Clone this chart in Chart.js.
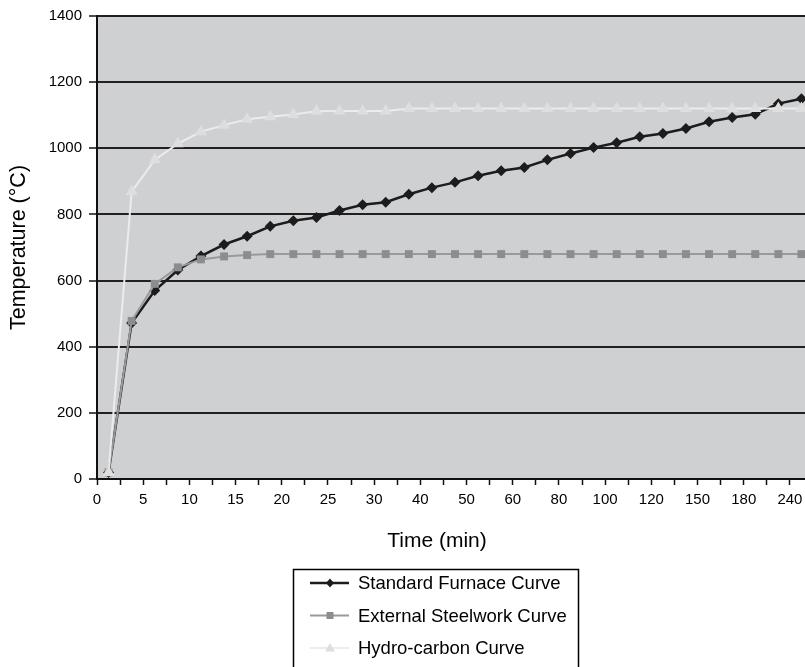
<!DOCTYPE html>
<html>
<head>
<meta charset="utf-8">
<script src="https://cdn.jsdelivr.net/npm/chart.js@4.4.1/dist/chart.umd.min.js"></script>
<style>
  html, body { margin: 0; padding: 0; background: #fff; overflow: hidden; }
  #wrap { width: 820px; height: 667px; }
</style>
</head>
<body>
<div id="wrap"><canvas id="c" width="820" height="667"></canvas></div>
<script>
// Time categories (minutes) and fire temperature curves (°C)
const times = [0, 2.5, 5, 7.5, 10, 12.5, 15, 17.5, 20, 22.5, 25, 27.5, 30, 35, 40, 45, 50, 55, 60, 70, 80, 90, 100, 110, 120, 135, 150, 165, 180, 210, 240];

const standardFurnace = [20, 472, 570, 632, 674, 709, 734, 764, 781, 791, 812, 829, 837, 861, 881, 897, 917, 932, 942, 965, 984, 1002, 1017, 1035, 1045, 1060, 1080, 1093, 1103, 1135, 1150];

const externalSteelwork = [20, 478, 590, 640, 664, 673, 677, 680, 680, 680, 680, 680, 680, 680, 680, 680, 680, 680, 680, 680, 680, 680, 680, 680, 680, 680, 680, 680, 680, 680, 680];

const hydrocarbon = [20, 869, 965, 1014, 1050, 1070, 1088, 1095, 1102, 1112, 1113, 1113, 1113, 1120, 1120, 1120, 1120, 1120, 1120, 1120, 1120, 1120, 1120, 1120, 1120, 1120, 1120, 1120, 1120, 1120, 1120];

const seriesNames = ['Standard Furnace Curve', 'External Steelwork Curve', 'Hydro-carbon Curve'];

const FONT = '"Liberation Sans", Arial, Helvetica, sans-serif';

// each category sits in the middle of its slot on the time axis
const toPoints = (vals) => vals.map((v, i) => ({ x: i + 0.5, y: v }));

const styles = [
  { line: '#1c1c1c', mark: '#1c1c1c', shape: 'rectRot', r: 5.5, w: 2.5, order: 2 },
  { line: '#9a9a9b', mark: '#8d8d8f', shape: 'rect', r: 5.6, w: 2, order: 1 },
  { line: '#ececec', mark: '#dedede', shape: 'triangle', r: 7, w: 2, order: 0 }
];
const seriesValues = [standardFurnace, externalSteelwork, hydrocarbon];

const datasets = seriesValues.map((vals, k) => ({
  label: seriesNames[k],
  data: toPoints(vals),
  borderColor: styles[k].line,
  backgroundColor: styles[k].mark,
  pointBackgroundColor: styles[k].mark,
  pointBorderColor: styles[k].mark,
  pointBorderWidth: 0,
  pointStyle: styles[k].shape,
  pointRadius: styles[k].r,
  borderWidth: styles[k].w,
  tension: 0,
  order: styles[k].order
}));

// gray plot background
const plotBackground = {
  id: 'plotBackground',
  beforeDraw(chart) {
    const { ctx, chartArea: a } = chart;
    ctx.save();
    ctx.fillStyle = '#cfd0d2';
    ctx.fillRect(a.left, a.top, a.right - a.left, a.bottom - a.top);
    ctx.restore();
  }
};

function legendMarker(ctx, shape, x, y, color) {
  ctx.fillStyle = color;
  ctx.beginPath();
  if (shape === 'rectRot') {
    ctx.moveTo(x, y - 4.5); ctx.lineTo(x + 4, y); ctx.lineTo(x, y + 4.5); ctx.lineTo(x - 4, y);
  } else if (shape === 'rect') {
    ctx.rect(x - 3.5, y - 3.5, 7, 7);
  } else {
    ctx.moveTo(x, y - 5); ctx.lineTo(x + 5, y + 3.5); ctx.lineTo(x - 5, y + 3.5);
  }
  ctx.closePath();
  ctx.fill();
}

// axis titles and boxed legend
const titlesAndLegend = {
  id: 'titlesAndLegend',
  afterDraw(chart) {
    const { ctx, chartArea: a } = chart;
    ctx.save();
    ctx.fillStyle = '#000';
    ctx.font = '21.5px ' + FONT;
    ctx.textAlign = 'center';
    ctx.textBaseline = 'middle';
    ctx.translate(19, (a.top + a.bottom) / 2);
    ctx.rotate(-Math.PI / 2);
    ctx.fillText('Temperature (\u00B0C)', 0, 0);
    ctx.restore();

    ctx.save();
    ctx.fillStyle = '#000';
    ctx.font = '21px ' + FONT;
    ctx.textAlign = 'center';
    ctx.textBaseline = 'middle';
    ctx.fillText('Time (min)', 437, 541);
    ctx.restore();

    ctx.save();
    ctx.strokeStyle = '#000';
    ctx.lineWidth = 1.5;
    ctx.strokeRect(293.5, 569.5, 285, 130);
    chart.data.datasets.forEach((ds, i) => {
      const y = 583 + i * 32.5;
      ctx.strokeStyle = styles[i].line;
      ctx.lineWidth = styles[i].w;
      ctx.beginPath();
      ctx.moveTo(310, y);
      ctx.lineTo(349, y);
      ctx.stroke();
      legendMarker(ctx, styles[i].shape, 330, y, styles[i].mark);
      ctx.fillStyle = '#000';
      ctx.font = '18.5px ' + FONT;
      ctx.textAlign = 'left';
      ctx.textBaseline = 'middle';
      ctx.fillText(ds.label, 358, y + 1);
    });
    ctx.restore();
  }
};

new Chart(document.getElementById('c'), {
  type: 'line',
  data: { datasets },
  options: {
    responsive: false,
    devicePixelRatio: 1,
    animation: false,
    events: [],
    layout: { padding: { top: 14, right: 7, bottom: 0, left: 0 } },
    plugins: { legend: { display: false }, tooltip: { enabled: false } },
    scales: {
      x: {
        type: 'linear',
        min: 0,
        max: times.length,
        afterFit(scale) { scale.height = 188; },
        border: { display: true, color: '#111', width: 2 },
        grid: {
          drawOnChartArea: false,
          drawTicks: true,
          tickLength: 6,
          tickWidth: 1.5,
          tickColor: '#111',
          color: '#111'
        },
        ticks: {
          stepSize: 1,
          autoSkip: false,
          maxRotation: 0,
          padding: 6,
          color: '#000',
          font: { family: FONT, size: 15 },
          callback: (v) => (v % 2 === 0 && v < times.length) ? String(times[v]) : ''
        }
      },
      y: {
        min: 0,
        max: 1400,
        afterFit(scale) { scale.width = 97; },
        border: { display: true, color: '#111', width: 2 },
        grid: {
          color: '#231f20',
          lineWidth: 2,
          drawTicks: true,
          tickLength: 8,
          tickWidth: 1.5,
          tickColor: '#111'
        },
        ticks: {
          stepSize: 200,
          padding: 7,
          color: '#000',
          font: { family: FONT, size: 15 },
          callback: (v) => String(v)
        }
      }
    }
  },
  plugins: [plotBackground, titlesAndLegend]
});
</script>
</body>
</html>
